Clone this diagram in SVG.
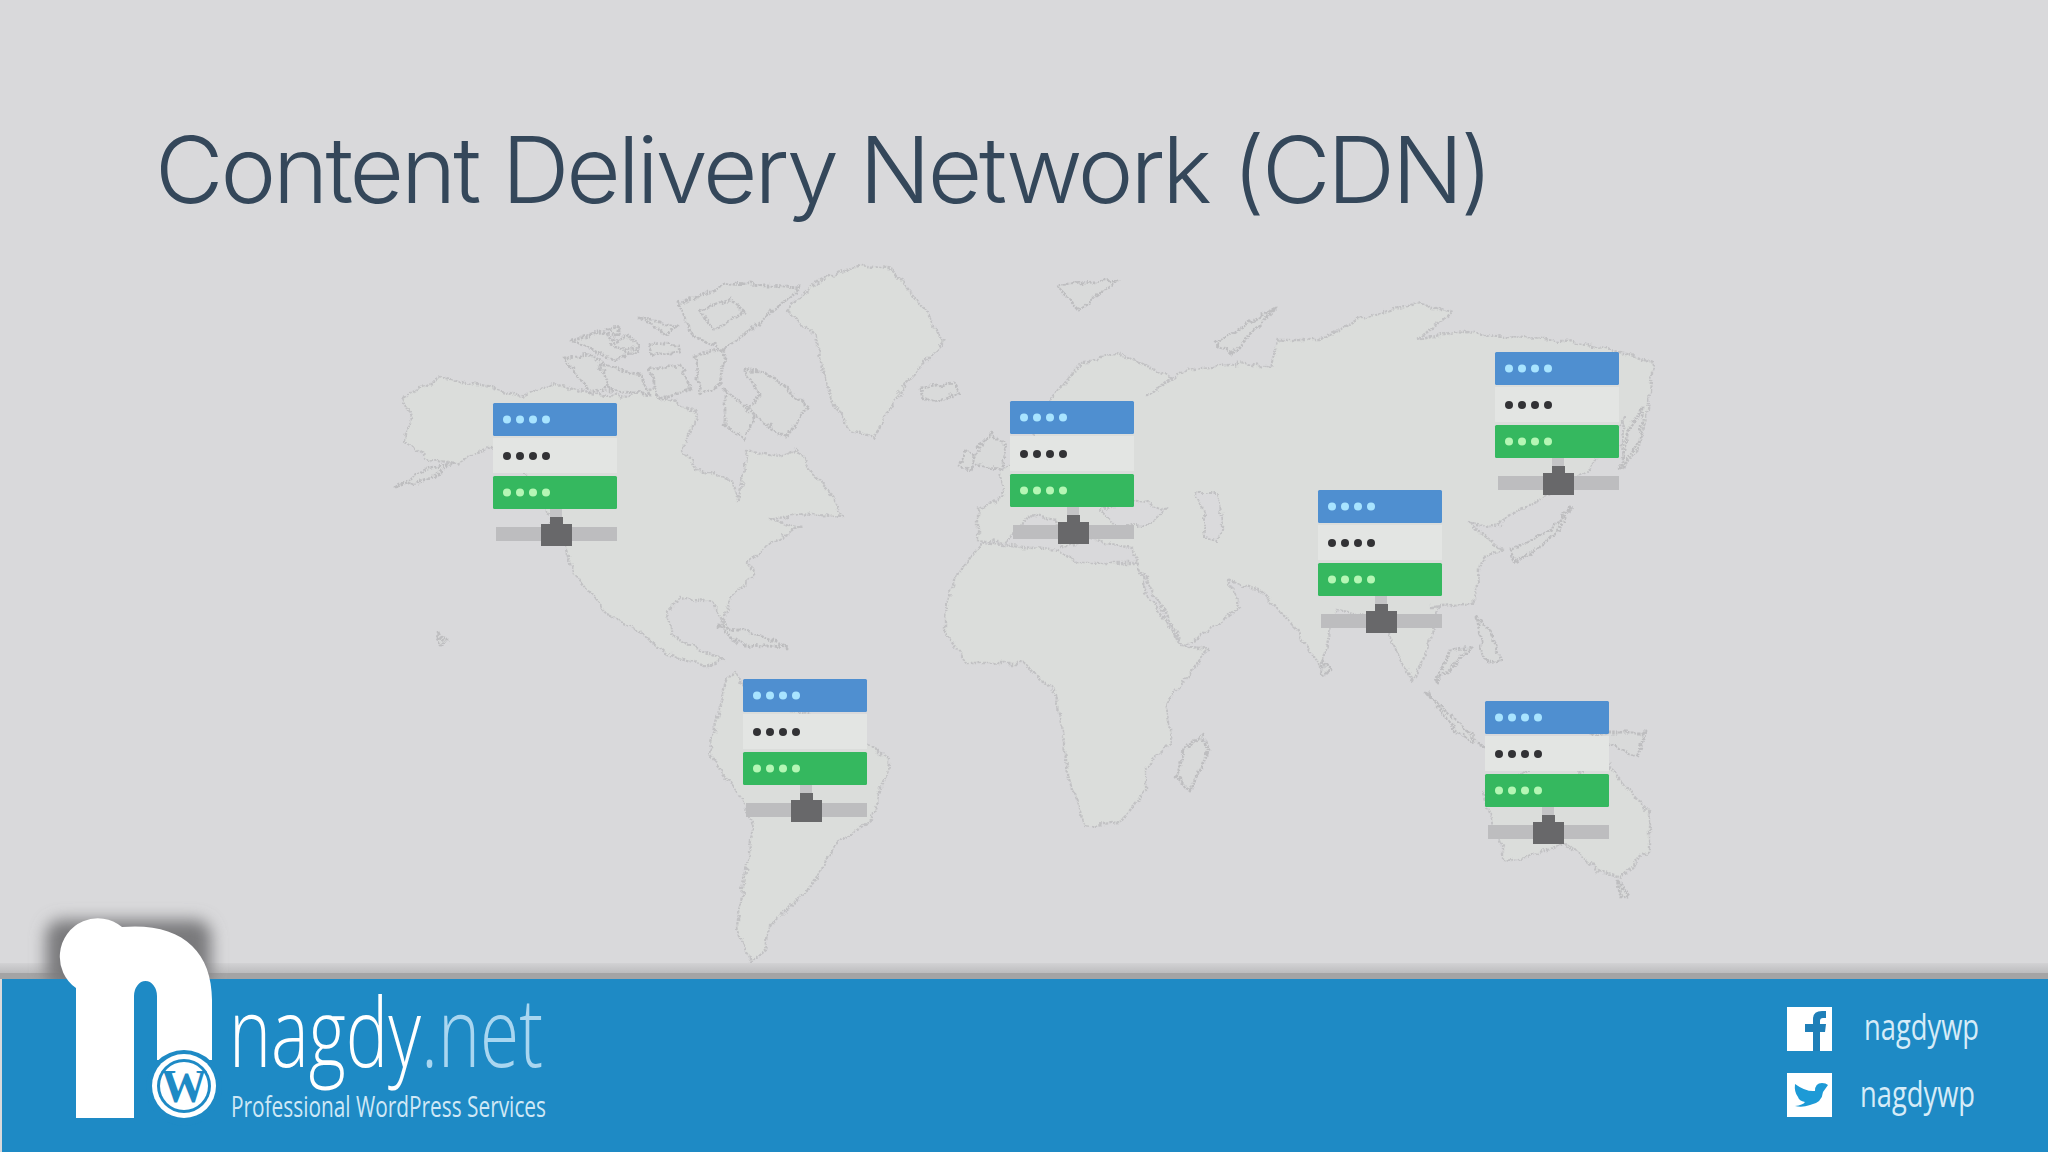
<svg xmlns="http://www.w3.org/2000/svg" width="2048" height="1152" viewBox="0 0 2048 1152">
<style>
.land{fill:#dbdddb;stroke:#c2c2c4;stroke-width:2.4;stroke-dasharray:2.5 1.2;stroke-linejoin:round}
.isl{fill:#d9dada;stroke:#bebec0;stroke-width:2.8;stroke-dasharray:2.5 1.2;stroke-linejoin:round}
.hole{fill:#dadadc;stroke:#c2c2c4;stroke-width:2;stroke-dasharray:2.5 1.2}
.t{font-family:"Open Sans","Liberation Sans",sans-serif}
</style>
<defs>
<linearGradient id="band" x1="0" y1="0" x2="0" y2="1"><stop offset="0" stop-color="#d2d2d4"/><stop offset="1" stop-color="#bcbcbe"/></linearGradient>
<filter id="rough" x="-2%" y="-2%" width="104%" height="104%"><feTurbulence type="fractalNoise" baseFrequency="0.11" numOctaves="2" seed="4"/><feDisplacementMap in="SourceGraphic" scale="8" xChannelSelector="R" yChannelSelector="G"/><feGaussianBlur stdDeviation="0.5"/></filter>
<filter id="soft"><feGaussianBlur stdDeviation="0.6"/></filter>
<filter id="shade" x="-30%" y="-30%" width="160%" height="160%"><feGaussianBlur stdDeviation="8"/></filter>
<clipPath id="above"><rect x="0" y="880" width="400" height="99"/></clipPath>
<g id="server" filter="url(#soft)">
<rect x="0" y="35" width="124" height="35" fill="#e3e5e3"/>
<rect x="0" y="0" width="124" height="33" rx="1.5" fill="#4f8fd0"/>
<rect x="0" y="73" width="124" height="33" rx="1.5" fill="#35b85e"/>
<rect x="57" y="106" width="12" height="20" fill="#c4c4c6"/>
<rect x="3" y="124" width="121" height="14" fill="#bdbdbf"/>
<path d="M48 121h9v-7h13v7h9v22h-31z" fill="#68686a"/>
<g fill="#a8e4ff"><circle cx="14" cy="16.500" r="4"/><circle cx="27" cy="16.500" r="4"/><circle cx="40" cy="16.500" r="4"/><circle cx="53" cy="16.500" r="4"/></g>
<g fill="#333335"><circle cx="14" cy="53" r="4"/><circle cx="27" cy="53" r="4"/><circle cx="40" cy="53" r="4"/><circle cx="53" cy="53" r="4"/></g>
<g fill="#b5f6b5"><circle cx="14" cy="89.500" r="4"/><circle cx="27" cy="89.500" r="4"/><circle cx="40" cy="89.500" r="4"/><circle cx="53" cy="89.500" r="4"/></g>
</g>
</defs>
<rect id="background" width="2048" height="1152" fill="#d9d9db"/>
<text id="title" x="155" y="203" font-size="92" fill="#34475a" textLength="1335" lengthAdjust="spacingAndGlyphs" letter-spacing="-3" style="font-family:Inter,'Open Sans',sans-serif;font-weight:300">Content Delivery Network (CDN)</text>

<g id="world-map" filter="url(#rough)">
<path class="land" d="M403 397L441 378L487 387L522 397L552 383L587 393L629 397L655 387L671 400L698 413L682 450L698 470L732 480L738 500L743 480L747 450L778 457L797 450L816 477L828 490L843 517L801 513L770 520L801 527L770 543L747 563L755 573L732 597L722 625L738 645L728 628L712 602L680 597L668 612L672 635L700 650L725 660L705 666L666 653L640 632L607 614L575 575L564 543L525 473L491 447L457 463L430 460L403 440L412 420Z"/>
<path class="land" d="M726 680L709 753L744 803L753 827L737 927L750 962L766 950L769 927L814 883L833 847L871 820L890 760L865 743L808 713L756 707L735 672Z"/>
<path class="land" d="M945 617L954 580L982 543L1053 550L1082 563L1138 563L1146 593L1177 637L1181 647L1209 650L1165 703L1171 743L1146 767L1146 790L1120 823L1085 827L1069 780L1063 737L1056 693L1024 663L967 663L945 633Z"/>
<path class="land" d="M978 510L978 540L1006 543L1030 515L1056 520L1060 548L1090 540L1132 548L1138 563L1146 580L1184 647L1241 607L1228 580L1262 592L1292 623L1321 667L1336 610L1394 620L1388 633L1394 647L1413 683L1426 653L1439 607L1431 607L1473 603L1483 557L1502 550L1469 523L1497 527L1506 517L1544 497L1590 470L1624 417L1620 470L1638 450L1648 410L1653 363L1624 353L1563 340L1506 337L1454 332L1417 340L1452 313L1417 302L1402 307L1355 320L1322 340L1280 340L1270 367L1247 363L1185 370L1148 397L1171 377L1119 353L1082 363L1053 397L1030 430L1042 450L1022 460L1000 470L1005 495Z"/>
<path class="hole" d="M1195 493L1218 493L1223 523L1218 540L1204 537L1204 513Z"/>
<path class="hole" d="M1100 510L1140 500L1165 510L1150 525L1115 525Z"/>
<path class="land" d="M786 310L820 280L862 265L893 270L927 313L943 343L908 380L889 410L874 437L851 430L835 407L824 377L816 337Z"/>
<path class="isl" d="M920 387L954 383L960 393L935 403L921 397Z"/>
<path class="isl" d="M744 370L766 373L809 407L786 437L744 410L760 395Z"/>
<path class="isl" d="M678 303L732 283L801 287L763 320L724 350L694 337Z"/>
<path class="isl" d="M700 310L730 300L745 312L715 330Z"/>
<path class="isl" d="M571 340L600 332L640 350L615 360Z"/>
<path class="isl" d="M610 345L628 335L640 345L625 352Z"/>
<path class="isl" d="M640 317L678 327L665 335Z"/>
<path class="isl" d="M606 330L620 326L618 336Z"/>
<path class="isl" d="M564 357L594 355L625 385L590 392Z"/>
<path class="isl" d="M600 365L640 375L650 395L610 390Z"/>
<path class="isl" d="M648 343L678 345L680 352L652 355Z"/>
<path class="isl" d="M650 370L680 365L690 390L660 400Z"/>
<path class="isl" d="M695 355L725 350L720 385L700 395Z"/>
<path class="isl" d="M725 390L755 415L745 440L725 425Z"/>
<path class="isl" d="M1056 285L1117 280L1079 310Z"/>
<path class="isl" d="M1214 343L1275 308L1233 353Z"/>
<path class="isl" d="M992 433L1006 447L1001 470L973 463L978 447Z"/>
<path class="isl" d="M965 452L975 455L972 470L960 466Z"/>
<path class="isl" d="M1572 507L1553 537L1516 563L1511 550L1549 530Z"/>
<path class="isl" d="M1643 407L1640 440L1620 470L1628 430Z"/>
<path class="isl" d="M1477 617L1490 630L1500 660L1484 663Z"/>
<path class="isl" d="M1471 647L1436 683L1450 650Z"/>
<path class="isl" d="M1426 693L1484 747L1458 733Z"/>
<path class="isl" d="M1203 735L1209 750L1190 790L1177 777L1184 750Z"/>
<path class="isl" d="M718 627L750 632L788 647L745 645Z"/>
<path class="isl" d="M1590 733L1646 733L1637 757L1610 745Z"/>
<path class="land" d="M1483 793L1503 850L1503 860L1528 857L1566 843L1598 870L1621 877L1649 850L1649 813L1611 770L1600 745L1580 775L1560 750L1530 770Z"/>
<path class="isl" d="M1617 880L1630 897L1621 898Z"/>
<path class="isl" d="M1324 660L1330 672L1322 675Z"/>
<path class="isl" d="M437 634L448 640L442 644Z"/>
<path class="isl" d="M395 488L425 470L453 463L430 478Z"/>
</g>

<g id="server-1"><use href="#server" x="493" y="403"/></g>
<g id="server-2"><use href="#server" x="1010" y="401"/></g>
<g id="server-3"><use href="#server" x="1318" y="490"/></g>
<g id="server-4"><use href="#server" x="1495" y="352"/></g>
<g id="server-5"><use href="#server" x="743" y="679"/></g>
<g id="server-6"><use href="#server" x="1485" y="701"/></g>
<g id="connectors"/>

<g id="footer">
<rect x="0" y="963" width="2048" height="10" fill="url(#band)"/>
<rect x="0" y="973" width="2048" height="6" fill="#a4a4a5"/>
<rect x="2" y="979" width="2046" height="173" fill="#1e8ac5"/>
</g>
<g id="logo">
<g clip-path="url(#above)"><rect x="46" y="920" width="165" height="70" rx="16" fill="#79797b" filter="url(#shade)"/></g>
<path d="M76 1118V988A38 38 0 0 1 60 953A38 38 0 0 1 122 927C180 922 212 950 212 1000V1060H157V996A11.500 15 0 0 0 134 996V1118Z" fill="#fff"/>
<circle cx="184" cy="1088" r="38" fill="#1e8ac5"/>
<circle cx="184" cy="1086" r="32" fill="#fff"/>
<circle cx="184" cy="1086" r="27" fill="#1e8ac5"/>
<circle cx="184" cy="1086" r="24" fill="#fff"/>
<text x="184" y="1102" font-size="46" text-anchor="middle" fill="#1e8ac5" style="font-family:'Liberation Serif',serif;font-weight:700">W</text>
<text class="t" x="229" y="1067" font-size="96" font-weight="300" textLength="314" lengthAdjust="spacingAndGlyphs" fill="#fff">nagdy<tspan fill="#a9d6f0">.net</tspan></text>
<text class="t" x="231" y="1117" font-size="30" textLength="315" lengthAdjust="spacingAndGlyphs" fill="#cfe8f6">Professional WordPress Services</text>
</g>
<g id="social">
<rect x="1787" y="1007" width="45" height="44" fill="#fff"/>
<path d="M1813 1051V1032H1805V1024H1813V1019Q1813 1011 1822 1011H1826V1018H1823Q1820 1018 1820 1021V1024H1826L1825 1032H1820V1051Z" fill="#1f7fb8"/>
<rect x="1787" y="1073" width="45" height="44" fill="#fff"/>
<path d="M1795 1084Q1806 1092 1815 1091Q1815 1083 1822 1083Q1826 1083 1828 1085L1823 1092Q1822 1103 1810 1105Q1802 1108 1795 1106Q1803 1105 1805 1102Q1799 1101 1798 1097Q1794 1092 1795 1084Z" fill="#1d9ad6"/>
<text class="t" x="1864" y="1040" font-size="36" textLength="115" lengthAdjust="spacingAndGlyphs" fill="#d6ecf8">nagdywp</text>
<text class="t" x="1860" y="1107" font-size="36" textLength="115" lengthAdjust="spacingAndGlyphs" fill="#d6ecf8">nagdywp</text>
</g>
</svg>
